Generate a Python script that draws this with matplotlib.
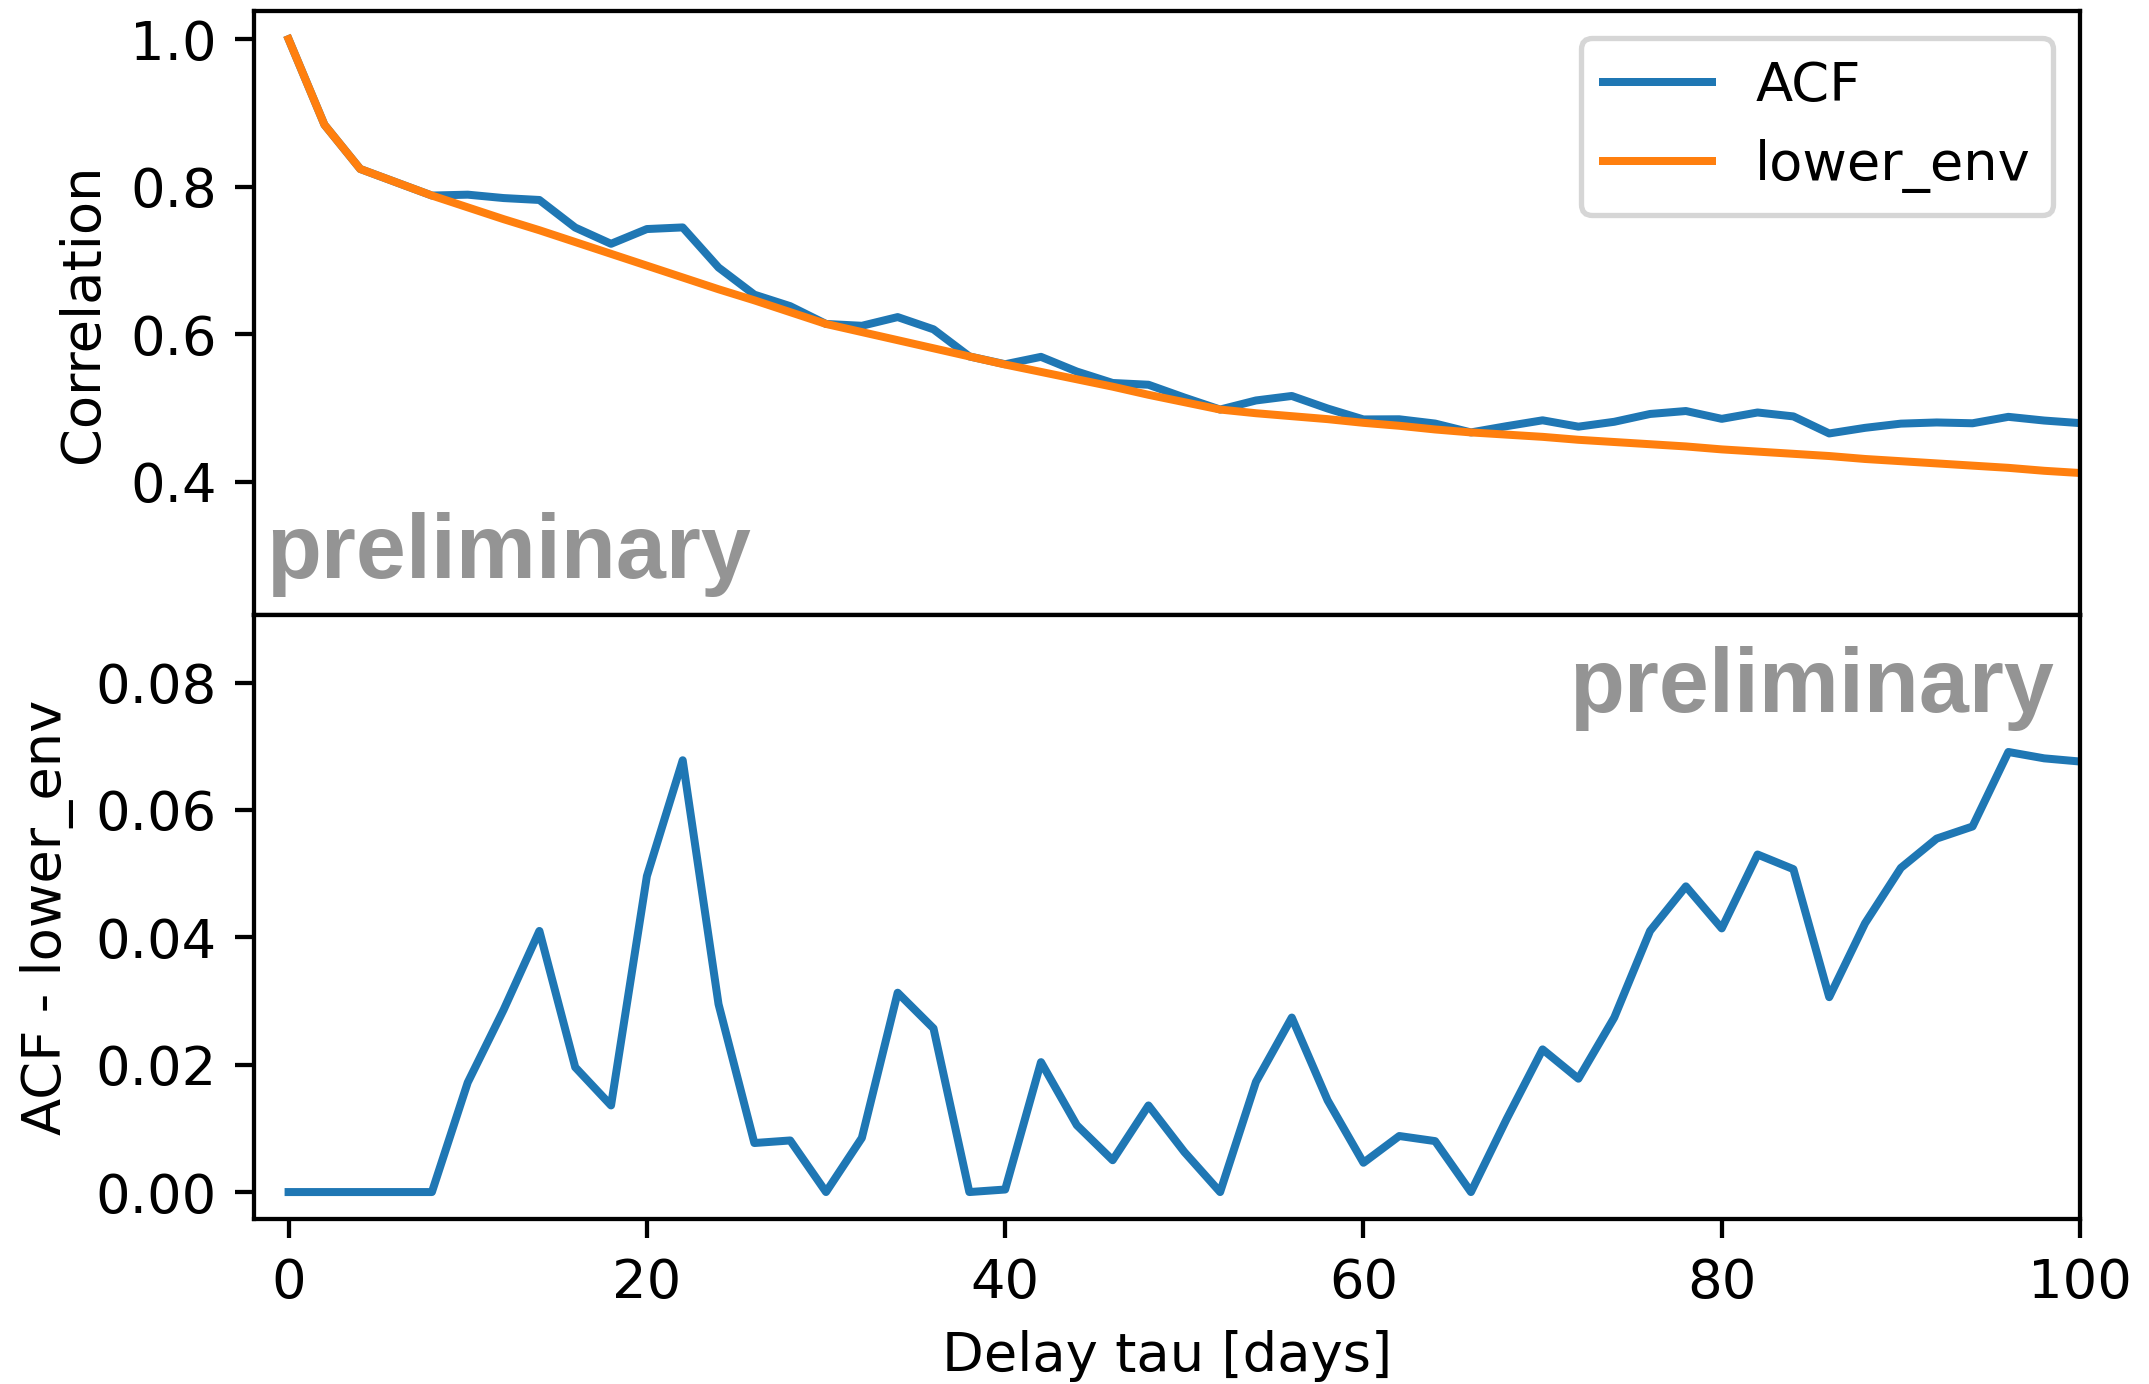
import numpy as np
import matplotlib
matplotlib.use("Agg")
import matplotlib.pyplot as plt

# ---- data ----
tau = [0, 2, 4, 6, 8, 10, 12, 14, 16, 18, 20, 22, 24, 26, 28, 30, 32, 34, 36, 38,
       40, 42, 44, 46, 48, 50, 52, 54, 56, 58, 60, 62, 64, 66, 68, 70, 72, 74, 76, 78,
       80, 82, 84, 86, 88, 90, 92, 94, 96, 98, 100]

lower_env = [1.000, 0.884, 0.824, 0.806, 0.788, 0.772, 0.756, 0.741, 0.725, 0.709,
             0.693, 0.677, 0.661, 0.646, 0.630, 0.614, 0.603, 0.592, 0.581, 0.570,
             0.559, 0.549, 0.539, 0.529, 0.518, 0.508, 0.498, 0.493, 0.489, 0.485,
             0.480, 0.476, 0.471, 0.467, 0.464, 0.461, 0.457, 0.454, 0.451, 0.448,
             0.444, 0.441, 0.438, 0.435, 0.431, 0.428, 0.425, 0.422, 0.419, 0.415,
             0.412]

acf_minus_env = [0.0, 0.0, 0.0, 0.0, 0.0, 0.0172, 0.0286, 0.0410, 0.0196, 0.0136,
                 0.0496, 0.0678, 0.0295, 0.0077, 0.0081, 0.0, 0.0085, 0.0313, 0.0257, 0.0,
                 0.0004, 0.0204, 0.0105, 0.0050, 0.0136, 0.0063, 0.0, 0.0173, 0.0274, 0.0144,
                 0.0046, 0.0088, 0.0080, 0.0, 0.0115, 0.0224, 0.0178, 0.0274, 0.0410, 0.0480,
                 0.0414, 0.0530, 0.0507, 0.0306, 0.0422, 0.0509, 0.0555, 0.0574, 0.0691, 0.0681,
                 0.0676]

acf = list(np.add(lower_env, acf_minus_env))

top_yticks = [0.4, 0.6, 0.8, 1.0]
bottom_yticks = [0.00, 0.02, 0.04, 0.06, 0.08]
x_ticks = [0, 20, 40, 60, 80, 100]

# ---- figure ----
DPI = 384
plt.rcParams['font.size'] = 10.2
fig = plt.figure(figsize=(2149 / DPI, 1384 / DPI), dpi=DPI)

ax1 = fig.add_axes([0.1182, 0.5556, 0.8497, 0.4364])
ax2 = fig.add_axes([0.1182, 0.1189, 0.8497, 0.4367])

ax1.plot(tau, acf, color='#1f77b4', lw=1.5, label='ACF')
ax1.plot(tau, lower_env, color='#ff7f0e', lw=1.5, label='lower_env')
ax1.set_xlim(-1.93, 100)
ax1.set_ylim(0.2195, 1.038)
ax1.set_yticks(top_yticks)
ax1.set_ylabel('Correlation')
ax1.tick_params(axis='x', bottom=False, labelbottom=False)
ax1.legend(loc='upper right', handlelength=2.0)
ax1.text(0.0065, 0.061, 'preliminary', transform=ax1.transAxes,
         ha='left', va='baseline', fontsize=16.85, fontweight='bold',
         family='Liberation Sans', color='#949494')

ax2.plot(tau, acf_minus_env, color='#1f77b4', lw=1.5)
ax2.set_xlim(-1.93, 100)
ax2.set_ylim(-0.0043, 0.0906)
ax2.set_yticks(bottom_yticks)
ax2.set_xticks(x_ticks)
ax2.set_ylabel('ACF - lower_env')
ax2.set_xlabel('Delay tau [days]')
ax2.text(0.9858, 0.840, 'preliminary', transform=ax2.transAxes,
         ha='right', va='baseline', fontsize=16.85, fontweight='bold',
         family='Liberation Sans', color='#949494')

fig.savefig('out.png', dpi=DPI)
